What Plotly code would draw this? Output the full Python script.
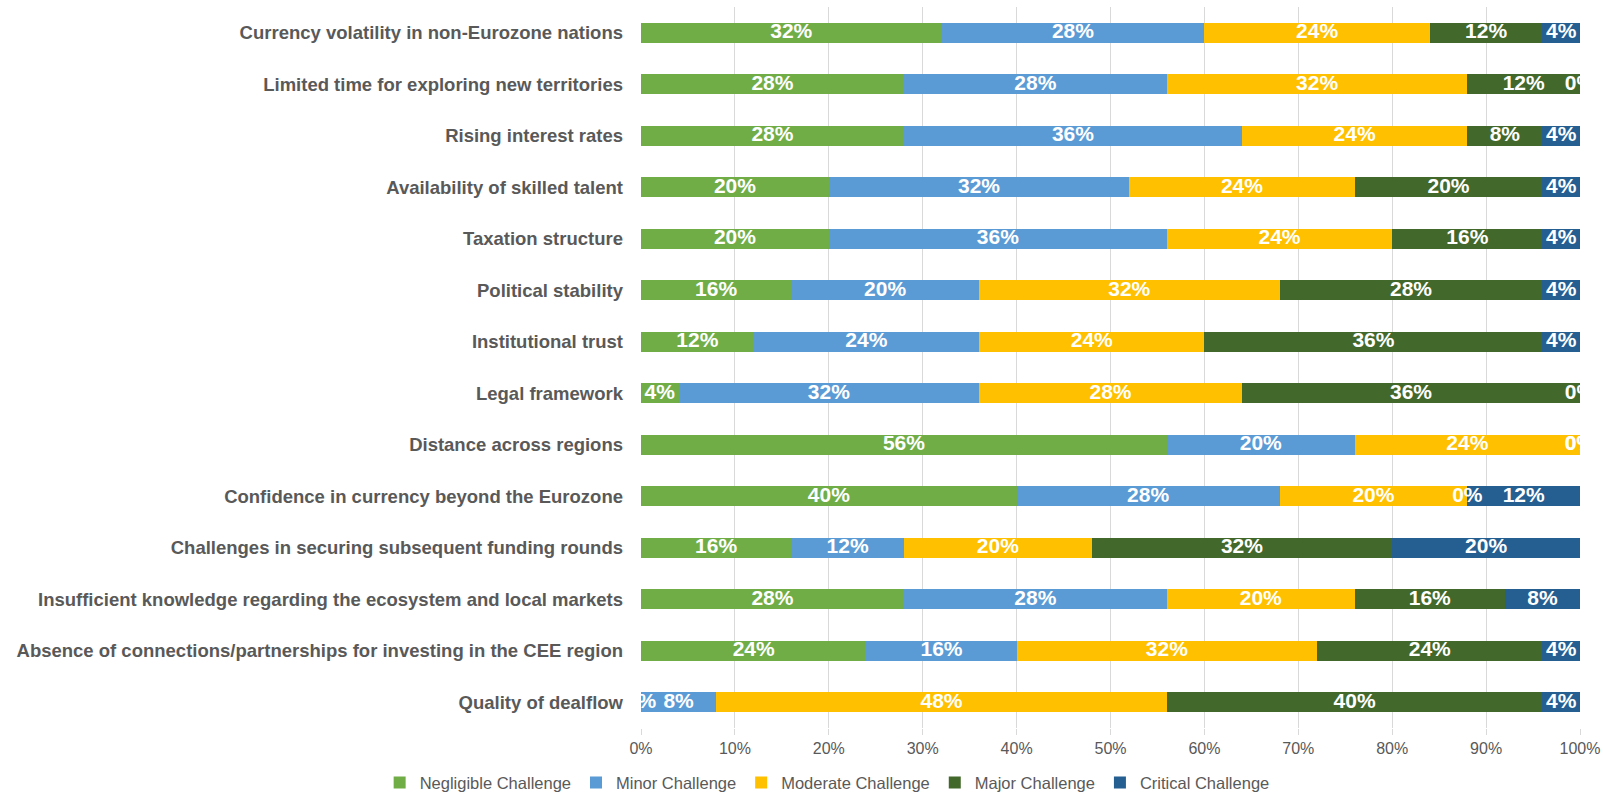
import numpy as np
import plotly.graph_objects as go

categories = [
    "Currency volatility in non-Eurozone nations",
    "Limited time for exploring new territories",
    "Rising interest rates",
    "Availability of skilled talent",
    "Taxation structure",
    "Political stability",
    "Institutional trust",
    "Legal framework",
    "Distance across regions",
    "Confidence in currency beyond the Eurozone",
    "Challenges in securing subsequent funding rounds",
    "Insufficient knowledge regarding the ecosystem and local markets",
    "Absence of connections/partnerships for investing in the CEE region",
    "Quality of dealflow",
]

negligible = [32, 28, 28, 20, 20, 16, 12, 4, 56, 40, 16, 28, 24, 0]
minor = [28, 28, 36, 32, 36, 20, 24, 32, 20, 28, 12, 28, 16, 8]
moderate = [24, 32, 24, 24, 24, 32, 24, 28, 24, 20, 20, 20, 32, 48]
major = [12, 12, 8, 20, 16, 28, 36, 36, 0, 0, 32, 16, 24, 40]
critical = [4, 0, 4, 4, 4, 4, 4, 0, 0, 12, 20, 8, 4, 4]

series = [
    ("Negligible Challenge", negligible, "#70AD47"),
    ("Minor Challenge", minor, "#5B9BD5"),
    ("Moderate Challenge", moderate, "#FFC000"),
    ("Major Challenge", major, "#43682B"),
    ("Critical Challenge", critical, "#255E91"),
]

fig = go.Figure()
base = np.zeros(len(categories))
label_x, label_y, label_t = [], [], []
for name, vals, color in series:
    vals = np.array(vals, dtype=float)
    fig.add_trace(go.Bar(
        y=categories, x=vals, name=name, orientation="h",
        marker=dict(color=color, line=dict(width=0)),
    ))
    # Excel-style labels centred in each segment (incl. 0% ones)
    label_x += list(base + vals / 2)
    label_y += categories
    label_t += [f"{int(v)}%" for v in vals]
    base = base + vals

fig.add_trace(go.Scatter(
    x=label_x, y=label_y, text=label_t, mode="text",
    textposition="middle center", cliponaxis=True, showlegend=False,
    textfont=dict(color="white", size=21, family="Liberation Sans", weight="bold"),
    hoverinfo="skip",
))

fig.update_layout(
    barmode="stack",
    bargap=0.61,
    width=1603, height=794,
    margin=dict(l=641, r=23, t=7, b=66, autoexpand=False),
    plot_bgcolor="white", paper_bgcolor="white",
    font=dict(family="Liberation Sans", color="#595959"),
    legend=dict(
        orientation="h", xref="container", yref="container",
        x=0.516, xanchor="center", y=0.014, yanchor="middle",
        font=dict(size=16.5, color="#595959"), traceorder="normal",
        itemwidth=30,
    ),
)
fig.update_xaxes(
    range=[0, 100], dtick=10, ticksuffix="%",
    showgrid=True, gridcolor="#D9D9D9", gridwidth=1,
    ticks="outside", ticklen=6, tickcolor="#D9D9D9",
    tickfont=dict(size=16, color="#595959"), zeroline=False,
)
fig.update_yaxes(
    range=[13.5, -0.5], showgrid=False,
    tickfont=dict(size=18.5, color="#595959", weight="bold"),
    ticks="", ticklabelstandoff=17,
)

# page body has an 8px default margin; drop it so the figure fills the window
fig.write_html("out.html", config={"displayModeBar": False},
               post_script="document.body.style.margin='0';")
